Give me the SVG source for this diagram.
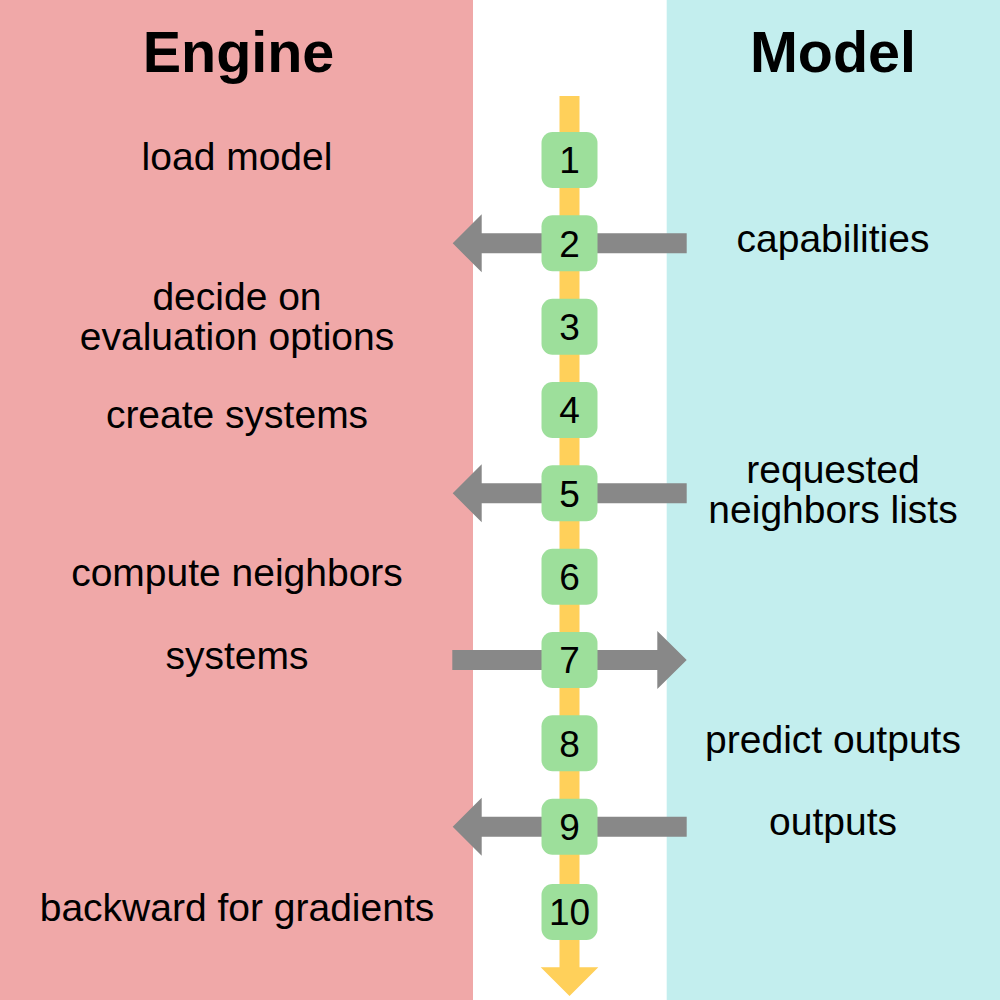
<svg xmlns="http://www.w3.org/2000/svg" width="1000" height="1000" viewBox="0 0 1000 1000">
<style>
.title{font-family:"Liberation Sans",Arial,sans-serif;font-weight:bold;font-size:57.5px;fill:#000;text-anchor:middle}
.lbl{font-family:"Liberation Sans",Arial,sans-serif;font-size:39px;fill:#000;text-anchor:middle}
.num{font-family:"Liberation Sans",Arial,sans-serif;font-size:37px;fill:#000;text-anchor:middle}
.box{fill:#9DDF9B}
.arr{fill:#888888}
</style>
<defs>
<rect id="b" class="box" x="-28" y="-28" width="56" height="56" rx="11"/>
<polygon id="la" class="arr" points="-116.8,0 -87.8,-29 -87.8,-10 117.2,-10 117.2,10 -87.8,10 -87.8,29"/>
</defs>
<g id="panels">
<rect x="0" y="0" width="473" height="1000" fill="#F0A8A8"/>
<rect x="666.7" y="0" width="333.3" height="1000" fill="#C3EEEE"/>
</g>
<g id="headers">
<text class="title" x="238.5" y="72">Engine</text>
<text class="title" x="833" y="72">Model</text>
</g>
<g id="connectors">
<polygon fill="#FFD05A" points="559.5,96 579.5,96 579.5,967.3 598.3,967.3 569.5,996 540.7,967.3 559.5,967.3"/>
<use href="#la" x="569.5" y="243.3"/>
<use href="#la" x="569.5" y="493.3"/>
<use href="#la" x="569.5" y="826.7"/>
<polygon class="arr" points="452.3,650 657.3,650 657.3,631 686.7,660 657.3,689 657.3,670 452.3,670"/>
</g>
<g id="step1"><use href="#b" x="569.5" y="160"/><text class="num" x="569.5" y="173.3">1</text><text class="lbl" x="237" y="169.5">load model</text></g>
<g id="step2"><use href="#b" x="569.5" y="243.3"/><text class="num" x="569.5" y="256.6">2</text><text class="lbl" x="833" y="252">capabilities</text></g>
<g id="step3"><use href="#b" x="569.5" y="326.7"/><text class="num" x="569.5" y="340">3</text><text class="lbl" x="237" y="310.3">decide on</text><text class="lbl" x="237" y="350.3">evaluation options</text></g>
<g id="step4"><use href="#b" x="569.5" y="410"/><text class="num" x="569.5" y="423.3">4</text><text class="lbl" x="237" y="428">create systems</text></g>
<g id="step5"><use href="#b" x="569.5" y="493.3"/><text class="num" x="569.5" y="506.6">5</text><text class="lbl" x="833" y="483">requested</text><text class="lbl" x="833" y="523">neighbors lists</text></g>
<g id="step6"><use href="#b" x="569.5" y="576.7"/><text class="num" x="569.5" y="590">6</text><text class="lbl" x="237" y="586.3">compute neighbors</text></g>
<g id="step7"><use href="#b" x="569.5" y="660"/><text class="num" x="569.5" y="673.3">7</text><text class="lbl" x="237" y="669">systems</text></g>
<g id="step8"><use href="#b" x="569.5" y="743.3"/><text class="num" x="569.5" y="756.6">8</text><text class="lbl" x="833" y="753">predict outputs</text></g>
<g id="step9"><use href="#b" x="569.5" y="826.7"/><text class="num" x="569.5" y="840">9</text><text class="lbl" x="833" y="835.3">outputs</text></g>
<g id="step10"><use href="#b" x="569.5" y="912"/><text class="num" x="569.5" y="925.3">10</text><text class="lbl" x="237" y="921.3">backward for gradients</text></g>
</svg>
